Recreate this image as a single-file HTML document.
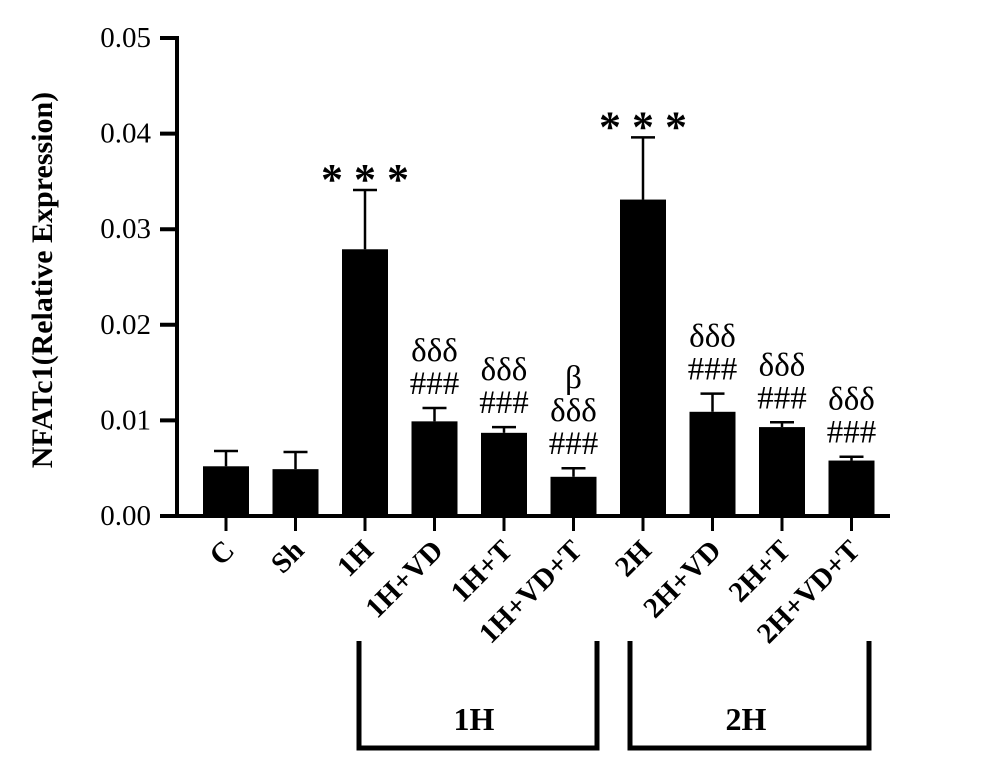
<!DOCTYPE html>
<html><head><meta charset="utf-8"><style>
html,body{margin:0;padding:0;background:#fff}
svg{display:block}
text{font-family:"Liberation Serif",serif;fill:#000}
</style></head><body>
<svg id="chart" width="1000" height="775" viewBox="0 0 1000 775" xmlns="http://www.w3.org/2000/svg">
<text transform="translate(52,280) rotate(-90)" text-anchor="middle" font-size="30" font-weight="bold">NFATc1(Relative Expression)</text>
<g id="yaxis"></g>
<g id="bars"></g>
<g id="xaxis"></g>
<g>
<path d="M359 641 V748 H597 V641" fill="none" stroke="#000" stroke-width="5"/>
<text x="474" y="730" text-anchor="middle" font-size="32" font-weight="bold">1H</text>
</g>
<g>
<path d="M630 641 V748 H869 V641" fill="none" stroke="#000" stroke-width="5"/>
<text x="746" y="730" text-anchor="middle" font-size="32" font-weight="bold">2H</text>
</g>
</svg>
<script>
const categories=["C","Sh","1H","1H+VD","1H+T","1H+VD+T","2H","2H+VD","2H+T","2H+VD+T"];
const means=[0.0052,0.0049,0.0279,0.0099,0.0087,0.0041,0.0331,0.0109,0.0093,0.0058];
const errs=[0.0016,0.0018,0.0062,0.0014,0.0006,0.0009,0.0065,0.0019,0.0005,0.0004];
const annotations=[[],[],["* * *"],["δδδ","###"],["δδδ","###"],["β","δδδ","###"],["* * *"],["δδδ","###"],["δδδ","###"],["δδδ","###"]];
const yTicks=[0,0.01,0.02,0.03,0.04,0.05];
const yTickLabels=["0.00","0.01","0.02","0.03","0.04","0.05"];
const NS="http://www.w3.org/2000/svg";
const y0=516,pxPer=9560,x0=226,step=69.5,bw=46,axisX=177;
function y(v){return y0-v*pxPer;}
function x(i){return x0+i*step;}
function mk(tag,attrs,parent){const e=document.createElementNS(NS,tag);for(const k in attrs)e.setAttribute(k,attrs[k]);parent.appendChild(e);return e;}
const ya=document.getElementById('yaxis'),bars=document.getElementById('bars'),xa=document.getElementById('xaxis');
const yl=mk('line',{x1:axisX,y1:y(0.05)-2,x2:axisX,y2:y0+2,stroke:'#000','stroke-width':4},ya);


yTicks.forEach((t,i)=>{
 const tk=mk('line',{x1:160,y1:y(t),x2:axisX,y2:y(t),stroke:'#000','stroke-width':4},ya);
 
 
 const tl=mk('text',{x:151,y:y(t)+9,'text-anchor':'end','font-size':29},ya);
 tl.textContent=yTickLabels[i];
 
 
});
categories.forEach((c,i)=>{
 const cx=x(i),top=y(means[i]),et=y(means[i]+errs[i]);
 const el=mk('line',{x1:cx,y1:et,x2:cx,y2:top,stroke:'#000','stroke-width':2.5},bars);
 
 
 const cap=mk('line',{x1:cx-12,y1:et,x2:cx+12,y2:et,stroke:'#000','stroke-width':2.5},bars);
 
 
 const r=mk('rect',{x:cx-bw/2,y:top,width:bw,height:y0-top,fill:'#000'},bars);
 
 
 const ann=annotations[i];
 ann.forEach((a,j)=>{
  const star=a.indexOf('*')>=0;
  const yy=star?et-10+14:et-14-(ann.length-1-j)*33;
  const t=mk('text',{x:cx,y:yy,'text-anchor':'middle','font-size':star?44:33,'font-weight':star?'bold':'normal'},bars);
  t.textContent=a;
  
  
 });
 const tk=mk('line',{x1:cx,y1:y0,x2:cx,y2:y0+15,stroke:'#000','stroke-width':3},xa);
 
 
 const lb=mk('text',{transform:`translate(${cx+10},${y0+36}) rotate(-45)`,'text-anchor':'end','font-size':29,'font-weight':'bold'},xa);
 lb.textContent=c;
 
 
});
const xl=mk('line',{x1:axisX-2,y1:y0,x2:890,y2:y0,stroke:'#000','stroke-width':4},xa);


</script>
</body></html>
